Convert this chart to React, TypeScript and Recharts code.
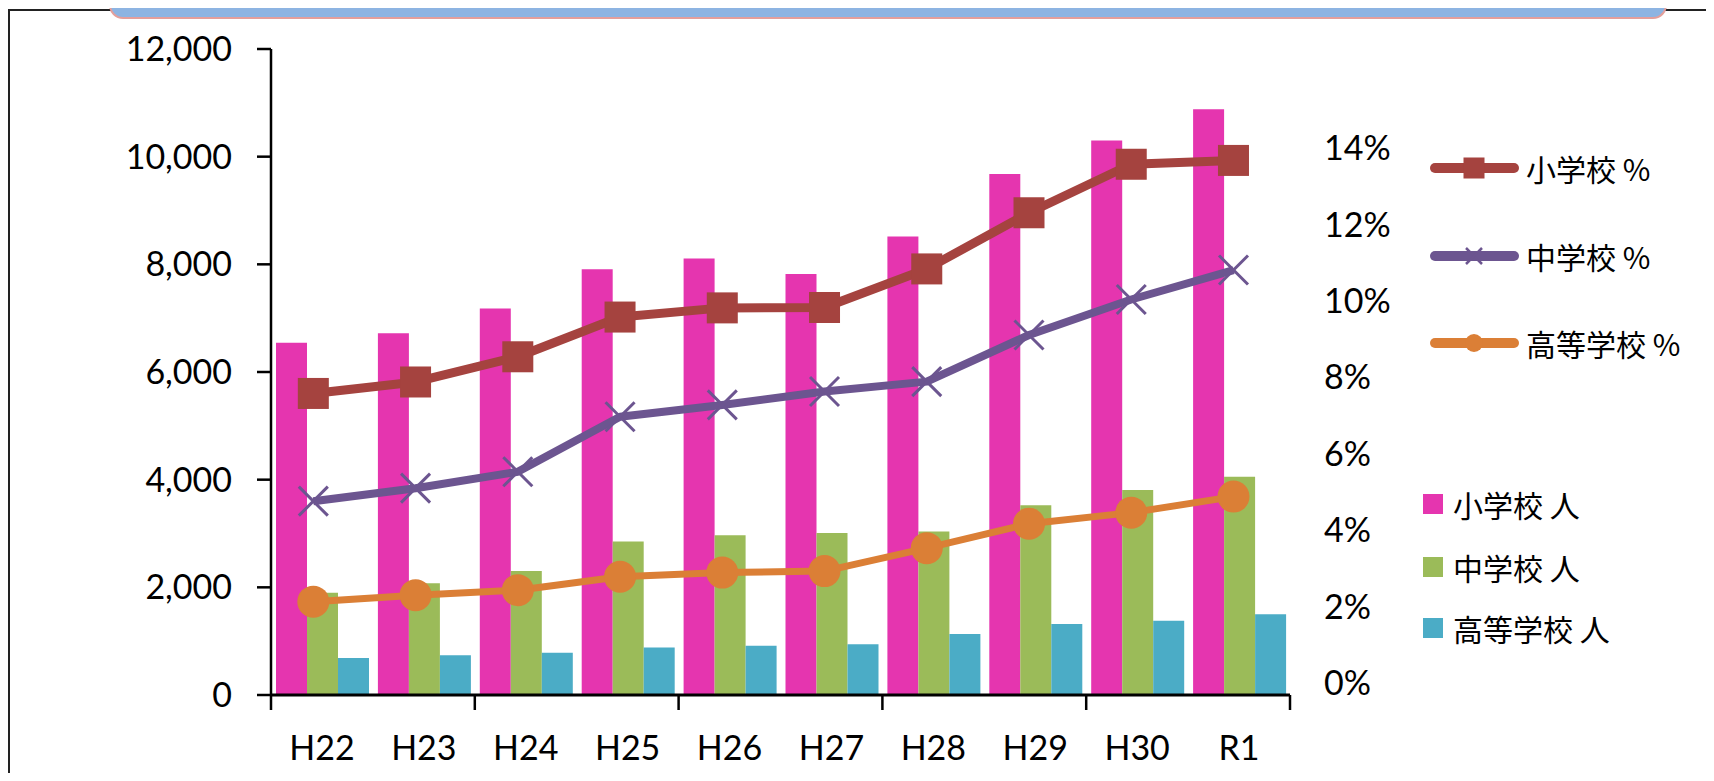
import React from 'react';
import { ComposedChart, Bar, Line, XAxis, YAxis, Legend } from 'recharts';

// ---------- data ----------
const categories = ['H22', 'H23', 'H24', 'H25', 'H26', 'H27', 'H28', 'H29', 'H30', 'R1'];
const elementaryCount = [6545, 6720, 7180, 7910, 8110, 7820, 8515, 9680, 10300, 10880];
const juniorCount = [1900, 2075, 2303, 2850, 2966, 3010, 3035, 3523, 3808, 4055];
const highCount = [687, 737, 786, 882, 916, 941, 1133, 1319, 1380, 1499];
const elementaryPct = [7.58, 7.88, 8.54, 9.58, 9.82, 9.83, 10.84, 12.31, 13.58, 13.68];
const juniorPct = [4.76, 5.1, 5.53, 6.97, 7.28, 7.63, 7.89, 9.11, 10.04, 10.81];
const highPct = [2.13, 2.3, 2.43, 2.78, 2.89, 2.93, 3.53, 4.17, 4.46, 4.88];
const countTicks = [0, 2000, 4000, 6000, 8000, 10000, 12000];
const pctTicks = [0, 2, 4, 6, 8, 10, 12, 14];

const data = categories.map((cat, i) => ({
  cat,
  elemN: elementaryCount[i],
  juniorN: juniorCount[i],
  highN: highCount[i],
  elemP: elementaryPct[i],
  juniorP: juniorPct[i],
  highP: highPct[i],
}));

// ---------- styles ----------
const W = 1714;
const H = 773;
const PLOT_LEFT = 271;
const PLOT_RIGHT = 1290;
const PLOT_TOP = 49;
const PLOT_BOTTOM = 695;

const LATIN = 'Lato, "Liberation Sans", sans-serif';
const CJK = '"Noto Sans CJK JP", "Noto Sans CJK SC", sans-serif';

const C = {
  pink: '#E535AF',
  green: '#9BBB59',
  blue: '#4BACC6',
  red: '#A5433F',
  purple: '#6C5590',
  orange: '#DB7F36',
};

const SquareDot = (props: any) => {
  const { cx, cy, index } = props;
  if (cx == null || cy == null) return <g key={index} />;
  return <rect key={index} x={cx - 15.5} y={cy - 15.5} width={31} height={31} fill={C.red} />;
};
const CrossDot = (props: any) => {
  const { cx, cy, index } = props;
  if (cx == null || cy == null) return <g key={index} />;
  const s = 14.5;
  return (
    <g key={index} stroke={C.purple} strokeWidth={3}>
      <line x1={cx - s} y1={cy - s} x2={cx + s} y2={cy + s} />
      <line x1={cx - s} y1={cy + s} x2={cx + s} y2={cy - s} />
    </g>
  );
};
const CircleDot = (props: any) => {
  const { cx, cy, index } = props;
  if (cx == null || cy == null) return <g key={index} />;
  return <circle key={index} cx={cx} cy={cy} r={16} fill={C.orange} />;
};

const XTick = (props: any) => {
  const { x, y, payload } = props;
  const half = payload && typeof payload.offset === 'number' && payload.offset > 0 ? payload.offset : (PLOT_RIGHT - PLOT_LEFT) / 20;
  const idx = payload && typeof payload.index === 'number' ? payload.index : props.index;
  return (
    <g>
      {idx % 2 === 0 && <line x1={x - half} x2={x - half} y1={y} y2={y + 15} stroke="#000" strokeWidth={2.5} />}
      {idx === categories.length - 1 && <line x1={x + half} x2={x + half} y1={y} y2={y + 15} stroke="#000" strokeWidth={2.5} />}
      <text x={x} y={y + 65} textAnchor="middle" fontSize={34} fontFamily={LATIN} fill="#000">
        {payload.value}
      </text>
    </g>
  );
};

const lineOrder = ['elemP', 'juniorP', 'highP'];
const barOrder = ['elemN', 'juniorN', 'highN'];
const lineMarker: Record<string, string> = { elemP: 'square', juniorP: 'cross', highP: 'circle' };

const LegendContent = (props: any) => {
  const payload: any[] = props.payload || [];
  const find = (k: string) => payload.find((p) => p.dataKey === k);
  const lines = lineOrder.map(find).filter(Boolean) as any[];
  const bars = barOrder.map(find).filter(Boolean) as any[];
  const lineY = [168, 256, 343];
  const barY = [504, 567, 628];
  return (
    <svg width={W} height={H} style={{ position: 'absolute', left: 0, top: 0, overflow: 'visible' }}>
      {lines.map((p, i) => {
        const y = lineY[i];
        const col = p.color;
        const mk = lineMarker[p.dataKey];
        const cx = 1474;
        return (
          <g key={'l' + i}>
            <line x1={1435} x2={1514} y1={y} y2={y} stroke={col} strokeWidth={10} strokeLinecap="round" />
            {mk === 'square' && <rect x={cx - 10.5} y={y - 10.5} width={21} height={21} fill={col} />}
            {mk === 'cross' && (
              <g stroke={col} strokeWidth={2.5}>
                <line x1={cx - 8} y1={y - 8} x2={cx + 8} y2={y + 8} />
                <line x1={cx - 8} y1={y + 8} x2={cx + 8} y2={y - 8} />
              </g>
            )}
            {mk === 'circle' && <circle cx={cx} cy={y} r={9} fill={col} />}
            <text x={1526} y={y} dominantBaseline="central" fontSize={30} fontFamily={CJK} fill="#000">
              {p.value}
            </text>
          </g>
        );
      })}
      {bars.map((p, i) => {
        const y = barY[i];
        return (
          <g key={'b' + i}>
            <rect x={1423} y={y - 10} width={20} height={20} fill={p.color} />
            <text x={1453} y={y} dominantBaseline="central" fontSize={30} fontFamily={CJK} fill="#000">
              {p.value}
            </text>
          </g>
        );
      })}
    </svg>
  );
};

export default function App() {
  return (
    <div style={{ position: 'relative', margin: '-8px 0 0 -8px', width: W, height: H, overflow: 'hidden', background: '#fff' }}>
      <div style={{ position: 'absolute', left: 0, top: 0 }}>
        <ComposedChart width={W} height={H} data={data} margin={{ top: PLOT_TOP, left: 0, right: 0, bottom: 0 }} barCategoryGap={5} barGap={0}>
          <XAxis
            xAxisId="cat"
            dataKey="cat"
            height={H - PLOT_BOTTOM}
            interval={0}
            axisLine={{ stroke: '#000', strokeWidth: 3 }}
            tickLine={false}
            tickSize={0}
            tickMargin={0}
            tick={<XTick />}
          />
          <XAxis xAxisId="line" dataKey="cat" hide padding={{ left: -8.8, right: 5.4 }} />
          <YAxis
            yAxisId="cnt"
            orientation="left"
            width={PLOT_LEFT}
            domain={[0, 12000]}
            ticks={countTicks}
            interval={0}
            tickFormatter={(v: number) => v.toLocaleString('en-US')}
            axisLine={{ stroke: '#000', strokeWidth: 2.5 }}
            tickLine={{ stroke: '#000', strokeWidth: 2.5 }}
            tickSize={14}
            tickMargin={25}
            tick={{ fill: '#000', fontSize: 34, fontFamily: LATIN }}
          />
          <YAxis
            yAxisId="pct"
            orientation="right"
            width={W - PLOT_RIGHT}
            domain={[-0.314, 16.597]}
            ticks={pctTicks}
            interval={0}
            tickFormatter={(v: number) => `${v}%`}
            axisLine={false}
            tickLine={false}
            tickSize={0}
            tickMargin={34}
            tick={{ fill: '#000', fontSize: 34, fontFamily: LATIN }}
          />
          <Bar xAxisId="cat" yAxisId="cnt" dataKey="elemN" name="小学校 人" fill={C.pink} isAnimationActive={false} />
          <Bar xAxisId="cat" yAxisId="cnt" dataKey="juniorN" name="中学校 人" fill={C.green} isAnimationActive={false} />
          <Bar xAxisId="cat" yAxisId="cnt" dataKey="highN" name="高等学校 人" fill={C.blue} isAnimationActive={false} />
          <Line xAxisId="line" yAxisId="pct" dataKey="elemP" name="小学校 %" stroke={C.red} strokeWidth={9} strokeLinejoin="round" dot={SquareDot} activeDot={false} legendType="line" isAnimationActive={false} />
          <Line xAxisId="line" yAxisId="pct" dataKey="juniorP" name="中学校 %" stroke={C.purple} strokeWidth={8} strokeLinejoin="round" dot={CrossDot} activeDot={false} legendType="line" isAnimationActive={false} />
          <Line xAxisId="line" yAxisId="pct" dataKey="highP" name="高等学校 %" stroke={C.orange} strokeWidth={7} strokeLinejoin="round" dot={CircleDot} activeDot={false} legendType="line" isAnimationActive={false} />
          <Legend
            layout="horizontal"
            verticalAlign="middle"
            align="center"
            content={<LegendContent />}
            wrapperStyle={{ left: 0, top: 0, width: W, height: H, pointerEvents: 'none' }}
          />
        </ComposedChart>
      </div>
      {/* frame */}
      <div style={{ position: 'absolute', left: 8, top: 9, width: W - 8, height: H, borderTop: '2px solid #222', borderLeft: '2px solid #222', boxSizing: 'border-box', pointerEvents: 'none' }} />
      {/* banner */}
      <div
        style={{
          position: 'absolute',
          left: 109,
          top: 0,
          width: 1558,
          height: 19,
          background: '#8DB4E2',
          borderLeft: '2px solid #E49F9B',
          borderRight: '2px solid #E49F9B',
          borderBottom: '2px solid #E49F9B',
          borderRadius: '0 0 14px 14px',
          boxSizing: 'border-box',
        }}
      />
    </div>
  );
}
